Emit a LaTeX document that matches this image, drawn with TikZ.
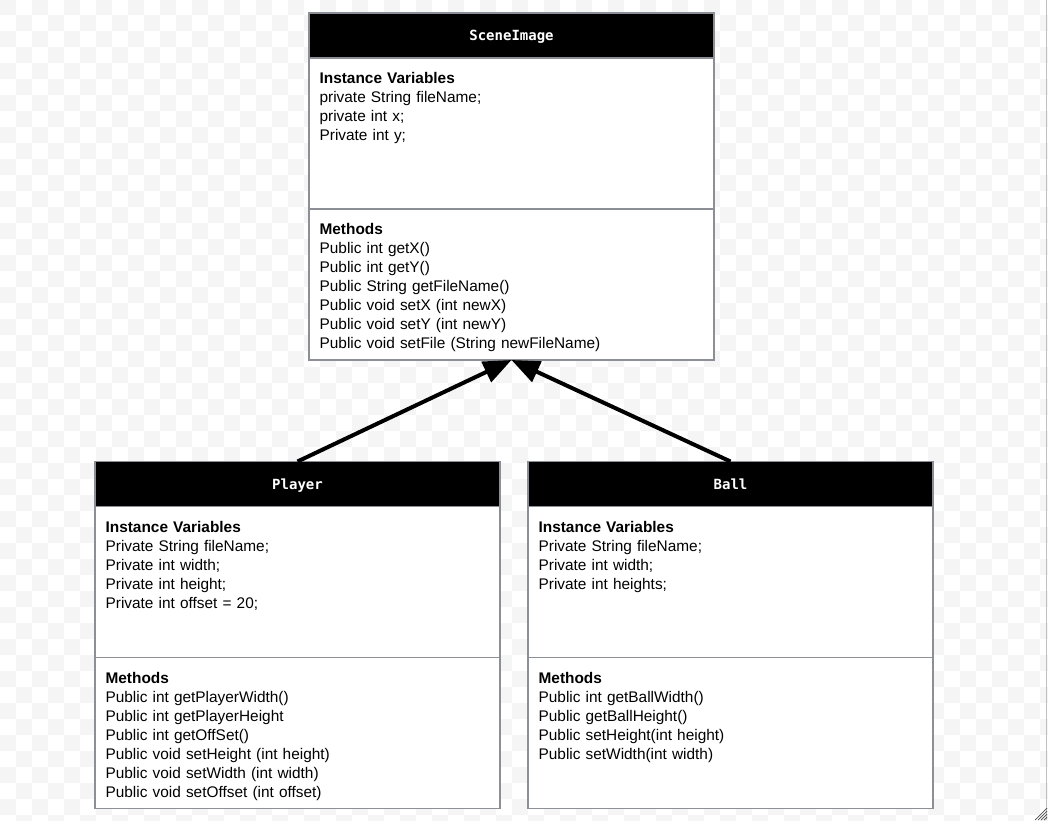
\documentclass[tikz,border=0pt]{standalone}
\usepackage{fontspec}
\setmainfont{Liberation Sans}
\newfontfamily\hdfont{DejaVu Sans Mono}
\usetikzlibrary{positioning,arrows.meta}
\definecolor{boxline}{RGB}{140,144,150}
\definecolor{checker}{HTML}{F5F5F5}
\tikzset{
  hd/.style={rectangle, minimum width=405pt, minimum height=45pt, inner sep=0pt, outer sep=0pt, text height=10.2pt, text depth=0pt, draw=boxline, fill=black, text=white, font=\hdfont\bfseries\fontsize{14}{16}\selectfont},
  sec/.style={rectangle, minimum width=405pt, minimum height=151pt, inner sep=0pt, outer sep=0pt, draw=boxline, fill=white},
  txt/.style={inner sep=0pt, align=left, text width=380pt, font=\fontsize{15.4}{19}\selectfont},
  inh/.style={line width=4pt, -{Triangle[length=28pt,width=22pt]}},
  node distance=0pt
}
\begin{document}
\begin{tikzpicture}[x=1pt, y=-1pt, line width=1.2pt]
	\useasboundingbox (0,0) rectangle (1048,820);
	% background
	\foreach \i in {0,2,...,64}
	  \foreach \j in {0,2,...,52} {
	    \fill[checker] (16*\i,16*\j-1) rectangle ++(16,16);
	    \fill[checker] (16*\i+16,16*\j+15) rectangle ++(16,16);
	  }
	\draw[gray!50, line width=1pt] (1046.5,0) -- (1046.5,820);
	\foreach \k in {0,3,6,9}
	  \draw[black!70, line width=0.7pt] (1035+\k,820) -- (1047,808+\k);
	%
	\node[hd] (scene) at (511.5,35.5) {SceneImage};
	\node[sec, below=of scene] (sceneV) {};
	\node[sec, below=of sceneV] (sceneM) {};
	\node[txt, below right=14pt and 10pt of sceneV.north west] (sceneVt) {\textbf{Instance Variables}\\private String fileName;\\private int x;\\Private int y;};
	\node[txt, below right=14pt and 10pt of sceneM.north west] (sceneMt) {\textbf{Methods}\\Public int getX()\\Public int getY()\\Public String getFileName()\\Public void setX (int newX)\\Public void setY (int newY)\\Public void setFile (String newFileName)};
	%
	\node[hd] (player) at (297.5,484) {Player};
	\node[sec, below=of player] (playerV) {};
	\node[sec, below=of playerV] (playerM) {};
	\node[txt, below right=14pt and 10pt of playerV.north west] (playerVt) {\textbf{Instance Variables}\\Private String fileName;\\Private int width;\\Private int height;\\Private int offset = 20;};
	\node[txt, below right=14pt and 10pt of playerM.north west] (playerMt) {\textbf{Methods}\\Public int getPlayerWidth()\\Public int getPlayerHeight\\Public int getOffSet()\\Public void setHeight (int height)\\Public void setWidth (int width)\\Public void setOffset (int offset)};
	%
	\node[hd] (ball) at (730.5,484) {Ball};
	\node[sec, below=of ball] (ballV) {};
	\node[sec, below=of ballV] (ballM) {};
	\node[txt, below right=14pt and 10pt of ballV.north west] (ballVt) {\textbf{Instance Variables}\\Private String fileName;\\Private int width;\\Private int heights;};
	\node[txt, below right=14pt and 10pt of ballM.north west] (ballMt) {\textbf{Methods}\\Public int getBallWidth()\\Public getBallHeight()\\Public setHeight(int height)\\Public setWidth(int width)};
	%
	\draw[inh] (player.north) -- (sceneM.south);
	\draw[inh] (ball.north) -- (sceneM.south);
\end{tikzpicture}
\end{document}
